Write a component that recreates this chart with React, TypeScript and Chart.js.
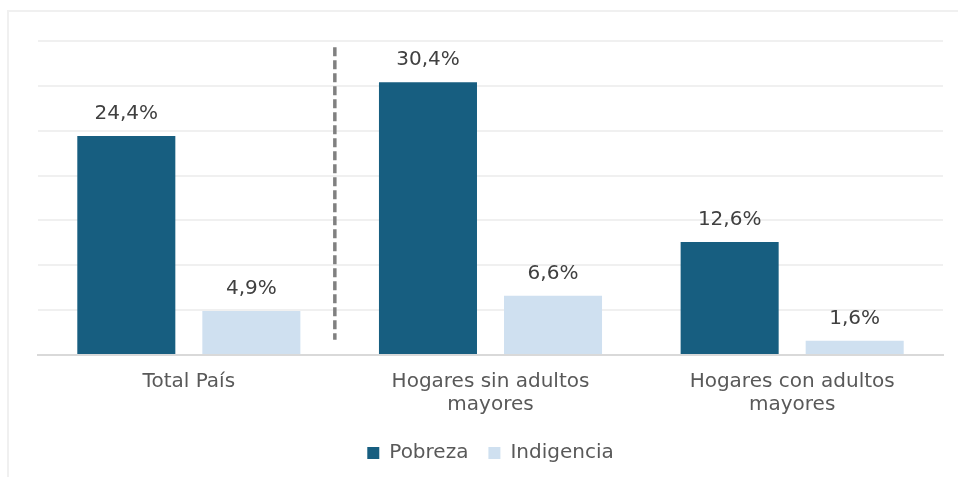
import React, { useEffect, useRef } from "react";
import { Chart, registerables } from "chart.js";

Chart.register(...registerables);

const categories: string[][] = [
  ["Total País"],
  ["Hogares sin adultos", "mayores"],
  ["Hogares con adultos", "mayores"],
];
const seriesNames = ["Pobreza", "Indigencia"];
const pobreza = [24.4, 30.4, 12.6];
const indigencia = [4.9, 6.6, 1.6];
const yMin = 0;
const yMax = 35;
const yStep = 5;
// dashed separator between "Total País" and the rest (category-scale units / value units)
const separatorX = 0.484;
const separatorYTop = 34.3;
const separatorYBottom = 1.7;

const FONT = "'DejaVu Sans', sans-serif";
const COLORS = ["#175e80", "#cfe0f0"];

const fmt = (v: number) => v.toFixed(1).replace(".", ",") + "%";

const dataLabelPlugin = {
  id: "dataLabels",
  afterDatasetsDraw(chart: any) {
    const { ctx } = chart;
    ctx.save();
    ctx.font = `20px ${FONT}`;
    ctx.fillStyle = "#404040";
    ctx.textAlign = "center";
    ctx.textBaseline = "alphabetic";
    chart.data.datasets.forEach((ds: any, i: number) => {
      const meta = chart.getDatasetMeta(i);
      meta.data.forEach((bar: any, j: number) => {
        ctx.fillText(fmt(ds.data[j]), bar.x, bar.y - 17);
      });
    });
    ctx.restore();
  },
};

const separatorPlugin = {
  id: "separator",
  beforeDatasetsDraw(chart: any) {
    const { ctx, scales } = chart;
    const x = scales.x.getPixelForValue(separatorX);
    const y1 = scales.y.getPixelForValue(separatorYTop);
    const y2 = scales.y.getPixelForValue(separatorYBottom);
    ctx.save();
    ctx.strokeStyle = "#808080";
    ctx.lineWidth = 3.5;
    ctx.setLineDash([9, 4]);
    ctx.beginPath();
    ctx.moveTo(x, y1);
    ctx.lineTo(x, y2);
    ctx.stroke();
    ctx.restore();
  },
};

export default function App() {
  const ref = useRef<HTMLCanvasElement | null>(null);

  useEffect(() => {
    if (!ref.current) return;
    const chart = new Chart(ref.current, {
      type: "bar",
      data: {
        labels: categories as any,
        datasets: [
          {
            label: seriesNames[0],
            data: pobreza,
            backgroundColor: COLORS[0],
            categoryPercentage: 0.829,
            barPercentage: 0.784,
          },
          {
            label: seriesNames[1],
            data: indigencia,
            backgroundColor: COLORS[1],
            categoryPercentage: 0.829,
            barPercentage: 0.784,
          },
        ],
      },
      options: {
        responsive: false,
        animation: false,
        layout: { padding: { left: 38, right: 15, top: 41, bottom: 4 } },
        plugins: {
          legend: {
            position: "bottom",
            labels: {
              boxWidth: 12,
              boxHeight: 12,
              padding: 20,
              color: "#595959",
              font: { family: FONT, size: 20 },
            },
          },
          tooltip: { enabled: false },
        },
        scales: {
          x: {
            grid: { display: false, drawTicks: false },
            border: { display: true, color: "#d9d9d9", width: 2 },
            ticks: {
              color: "#595959",
              padding: 15,
              font: { family: FONT, size: 20, lineHeight: 1.15 },
              maxRotation: 0,
              autoSkip: false,
            },
            afterFit: (s: any) => {
              s.height = s.height - 8;
            },
          },
          y: {
            min: yMin,
            max: yMax,
            ticks: { display: false, stepSize: yStep },
            grid: { color: "#f0f0f0", lineWidth: 2, drawTicks: false, tickLength: 0 },
            border: { display: false },
            afterFit: (s: any) => {
              s.width = 0;
            },
          },
        },
      },
      plugins: [dataLabelPlugin, separatorPlugin],
    });
    return () => chart.destroy();
  }, []);

  return (
    <div
      style={{
        position: "fixed",
        left: 0,
        top: 0,
        width: 958,
        height: 477,
        overflow: "hidden",
        background: "#ffffff",
      }}
    >
      <div
        style={{
          position: "absolute",
          left: 7,
          top: 10,
          width: 980,
          height: 500,
          border: "2px solid #f0f0f0",
        }}
      />
      <canvas
        ref={ref}
        width={958}
        height={477}
        style={{ position: "absolute", left: 0, top: 0, width: 958, height: 477 }}
      />
    </div>
  );
}
